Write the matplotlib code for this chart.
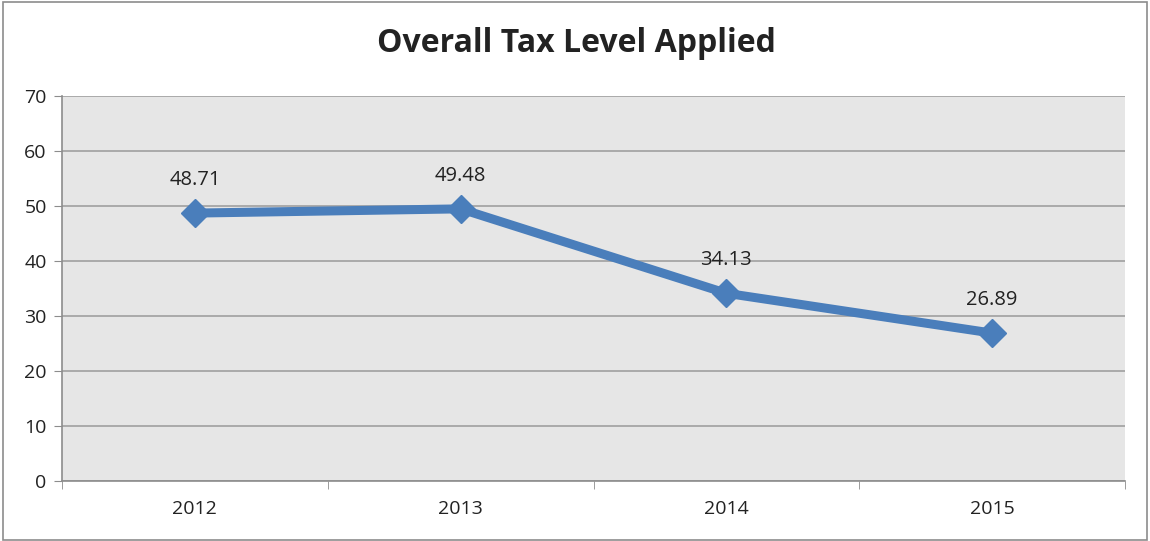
import numpy as np
import matplotlib.pyplot as plt
from matplotlib.patches import Rectangle

years = ['2012', '2013', '2014', '2015']
tax_level = [48.71, 49.48, 34.13, 26.89]
y_ticks = [0, 10, 20, 30, 40, 50, 60, 70]

plt.rcParams['font.family'] = ['Open Sans', 'DejaVu Sans']

fig = plt.figure(figsize=(11.5, 5.41), dpi=100)
ax = fig.add_axes([62 / 1150, 1 - 481 / 541, (1125 - 62) / 1150, (481 - 96) / 541])

# chart border
fig.patches.append(Rectangle((3 / 1150, 1 / 541), 1144 / 1150, 538 / 541,
                             transform=fig.transFigure, fill=False,
                             edgecolor='#8c8c8c', linewidth=1.2))

ax.set_facecolor('#e6e6e6')
x = np.arange(len(years))
ax.plot(x, tax_level, color='#4a7ebb', linewidth=6.5, marker='D',
        markersize=14, markerfacecolor='#4a7ebb', markeredgecolor='#4a7ebb',
        zorder=3, solid_joinstyle='round')

for xi, v in zip(x, tax_level):
    ax.annotate(f'{v:.2f}', (xi, v), xytext=(0, 24), textcoords='offset points',
                ha='center', va='center', fontsize=14.5, color='#222222')

ax.set_xlim(-0.5, len(years) - 0.5)
ax.set_ylim(0, 70)
ax.set_yticks(y_ticks)
ax.set_xticks(x)
ax.set_xticklabels(years)
ax.set_xticks(np.arange(-0.5, len(years)), minor=True)
ax.tick_params(axis='x', which='major', length=0, pad=14, labelsize=14, colors='#222222')
ax.tick_params(axis='x', which='minor', length=6, color='#8c8c8c')
ax.tick_params(axis='y', length=6, color='#8c8c8c', labelsize=14, labelcolor='#222222', pad=5)

ax.grid(axis='y', color='#a0a0a0', linewidth=1.2)
ax.set_axisbelow(True)
for side in ['top', 'right']:
    ax.spines[side].set_visible(False)
for side in ['left', 'bottom']:
    ax.spines[side].set_color('#8c8c8c')
    ax.spines[side].set_linewidth(1.2)

fig.text(576 / 1150, 1 - 44 / 541, 'Overall Tax Level Applied', ha='center', va='center',
         fontsize=23, fontweight='bold', color='#222222')

fig.savefig('out.png', dpi=100)
